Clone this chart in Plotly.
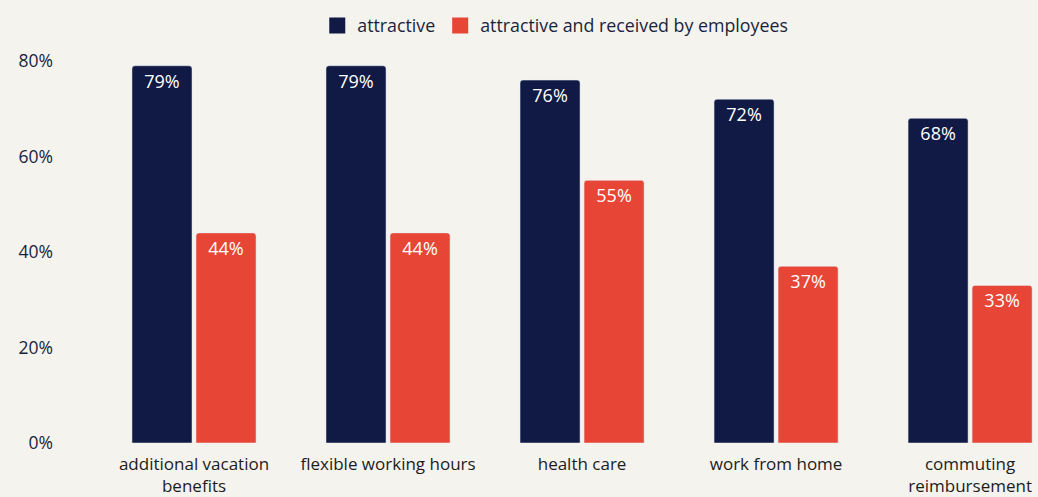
import plotly.graph_objects as go

categories = ["additional vacation<br>benefits", "flexible working hours", "health care",
              "work from home", "commuting<br>reimbursement"]
series_names = ["attractive", "attractive and received by employees"]
attractive = [79, 79, 76, 72, 68]
received = [44, 44, 55, 37, 33]
y_ticks = [0, 20, 40, 60, 80]
y_tick_labels = ["0%", "20%", "40%", "60%", "80%"]

NAVY = "#111a44"
RED = "#e74536"
BG = "#f5f3ee"
FONT = "Open Sans"

fig = go.Figure()
for name, values, color in zip(series_names, [attractive, received], [NAVY, RED]):
    fig.add_trace(go.Bar(
        name=name, x=categories, y=values, showlegend=False,
        marker=dict(color=color, cornerradius=3),
        text=[f"{v}%" for v in values], textposition="inside",
        insidetextanchor="end", textangle=0,
        textfont=dict(color="white", size=18, family=FONT),
    ))
    # square legend swatches
    fig.add_trace(go.Scatter(
        name=name, x=[None], y=[None], mode="markers",
        marker=dict(symbol="square", size=17, color=color),
        showlegend=True,
    ))

fig.update_layout(
    width=1038, height=497,
    paper_bgcolor=BG, plot_bgcolor=BG,
    margin=dict(l=97, r=0, t=50, b=54),
    barmode="group", bargap=0.34, bargroupgap=0.0625,
    font=dict(family=FONT, size=17, color="#1a1f3d"),
    legend=dict(orientation="h", x=0.487, xanchor="center", y=0.985, yanchor="top",
                yref="container", font=dict(size=17.8, color="#1a1f3d"),
                itemsizing="trace", traceorder="normal", itemwidth=30),
    uniformtext=dict(minsize=18, mode="show"),
)
fig.update_xaxes(range=[-0.5, 4.35], showgrid=False, showline=False, ticks="",
                 ticklabelstandoff=9,
                 tickfont=dict(size=17, color="#1c1c1c", family=FONT))
fig.update_yaxes(range=[0, 82.3], tickvals=y_ticks, ticktext=y_tick_labels,
                 showgrid=False, zeroline=False, showline=False, ticks="",
                 ticklabelstandoff=43,
                 tickfont=dict(size=17.5, color="#1a1f3d", family=FONT))

fig.write_html("out.html")
